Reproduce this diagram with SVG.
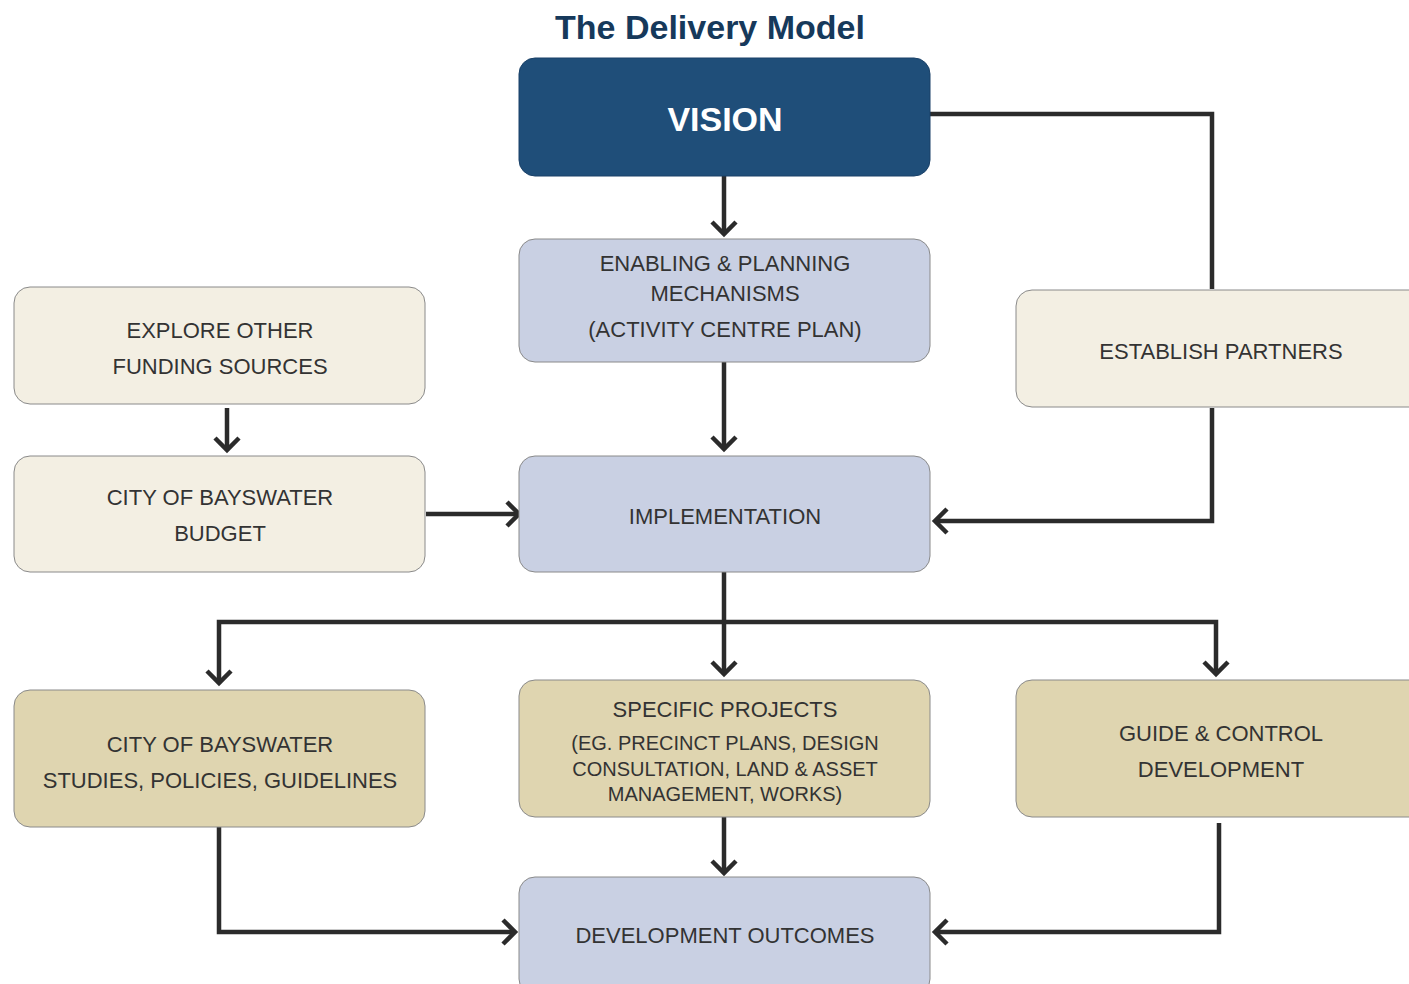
<svg xmlns="http://www.w3.org/2000/svg" width="1409" height="984" viewBox="0 0 1409 984">
<style>
.box{stroke:#8a8a8a;stroke-width:1}
.blue{fill:#c9d0e3}
.cream{fill:#f3efe3}
.tan{fill:#dfd5b0}
.t{font-family:"Liberation Sans",Arial,sans-serif;font-size:22px;fill:#333;text-anchor:middle}
.s{font-size:20px}
.c{fill:none;stroke:#2b2b2b;stroke-width:4.5;stroke-linejoin:miter}
</style>
<defs>
<marker id="ah" markerUnits="userSpaceOnUse" viewBox="-18 -18 24 36" markerWidth="24" markerHeight="36" refX="0" refY="0" orient="auto">
<path d="M -12 -12 L 0 0 L -12 12" fill="none" stroke="#2b2b2b" stroke-width="4.5"/>
</marker>
</defs>
<rect width="1409" height="984" fill="#fff"/>
<text x="710" y="39" font-family="Liberation Sans,Arial,sans-serif" font-weight="bold" font-size="34" fill="#16395b" text-anchor="middle">The Delivery Model</text>

<g id="connectors">
<path class="c" d="M724 176 V234" marker-end="url(#ah)"/>
<path class="c" d="M930 114 H1212 V289"/>
<path class="c" d="M1212 408 V521 H935" marker-end="url(#ah)"/>
<path class="c" d="M724 362 V449" marker-end="url(#ah)"/>
<path class="c" d="M227 408 V450" marker-end="url(#ah)"/>
<path class="c" d="M426 514 H519" marker-end="url(#ah)"/>
<path class="c" d="M724 572 V674" marker-end="url(#ah)"/>
<path class="c" d="M724 622 H219 V683" marker-end="url(#ah)"/>
<path class="c" d="M724 622 H1216 V674" marker-end="url(#ah)"/>
<path class="c" d="M724 817 V873" marker-end="url(#ah)"/>
<path class="c" d="M219 827 V932 H515" marker-end="url(#ah)"/>
<path class="c" d="M1219 823 V932 H935" marker-end="url(#ah)"/>
</g>

<g id="vision">
<rect x="519" y="58" width="411" height="118" rx="16" fill="#1f4e79" stroke="#1a4168" stroke-width="1"/>
<text x="725" y="131" font-family="Liberation Sans,Arial,sans-serif" font-weight="bold" font-size="34" fill="#fff" text-anchor="middle">VISION</text>
</g>
<g id="enabling">
<rect class="box blue" x="519" y="239" width="411" height="123" rx="16"/>
<text class="t" x="725" y="271">ENABLING &amp; PLANNING</text>
<text class="t" x="725" y="301">MECHANISMS</text>
<text class="t" x="725" y="337">(ACTIVITY CENTRE PLAN)</text>
</g>
<g id="explore">
<rect class="box cream" x="14" y="287" width="411" height="117" rx="16"/>
<text class="t" x="220" y="338">EXPLORE OTHER</text>
<text class="t" x="220" y="374">FUNDING SOURCES</text>
</g>
<g id="budget">
<rect class="box cream" x="14" y="456" width="411" height="116" rx="16"/>
<text class="t" x="220" y="505">CITY OF BAYSWATER</text>
<text class="t" x="220" y="541">BUDGET</text>
</g>
<g id="implementation">
<rect class="box blue" x="519" y="456" width="411" height="116" rx="16"/>
<text class="t" x="725" y="524">IMPLEMENTATION</text>
</g>
<g id="partners">
<rect class="box cream" x="1016" y="290" width="411" height="117" rx="16"/>
<text class="t" x="1221" y="359">ESTABLISH PARTNERS</text>
</g>
<g id="studies">
<rect class="box tan" x="14" y="690" width="411" height="137" rx="16"/>
<text class="t" x="220" y="752">CITY OF BAYSWATER</text>
<text class="t" x="220" y="788">STUDIES, POLICIES, GUIDELINES</text>
</g>
<g id="projects">
<rect class="box tan" x="519" y="680" width="411" height="137" rx="16"/>
<text class="t" x="725" y="717">SPECIFIC PROJECTS</text>
<text class="t s" x="725" y="750">(EG. PRECINCT PLANS, DESIGN</text>
<text class="t s" x="725" y="776">CONSULTATION, LAND &amp; ASSET</text>
<text class="t s" x="725" y="801">MANAGEMENT, WORKS)</text>
</g>
<g id="guide">
<rect class="box tan" x="1016" y="680" width="411" height="137" rx="16"/>
<text class="t" x="1221" y="741">GUIDE &amp; CONTROL</text>
<text class="t" x="1221" y="777">DEVELOPMENT</text>
</g>
<g id="outcomes">
<rect class="box blue" x="519" y="877" width="411" height="118" rx="16"/>
<text class="t" x="725" y="943">DEVELOPMENT OUTCOMES</text>
</g>
</svg>
